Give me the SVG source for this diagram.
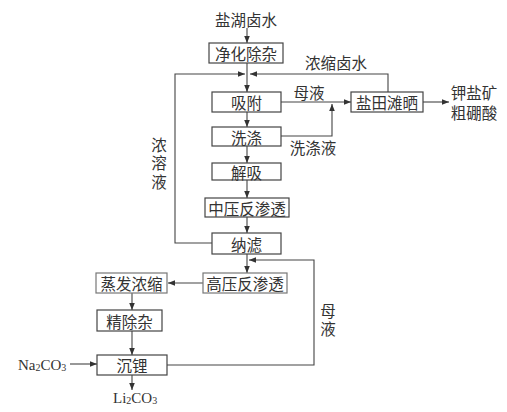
<svg xmlns="http://www.w3.org/2000/svg" width="507" height="412" viewBox="0 0 507 412">
<defs>
<marker id="ah" viewBox="0 0 10 10" refX="10" refY="5" markerWidth="7" markerHeight="7" markerUnits="userSpaceOnUse" orient="auto"><path d="M0,1 L10,5 L0,9 Z" fill="#333"/></marker>
<style>
.box{fill:#fff;stroke:#444;stroke-width:1.2}
.t{font-family:"Noto Sans CJK SC","Noto Sans",sans-serif;font-size:15.5px;fill:#333;text-anchor:middle;dominant-baseline:central}
.v{font-family:"Noto Sans CJK SC","Noto Sans",sans-serif;font-size:15.5px;fill:#333;writing-mode:vertical-rl;text-anchor:start}
.s{font-family:"Liberation Serif",serif;font-size:15px;fill:#333}
.ln{fill:none;stroke:#444;stroke-width:1.1}
.ar{fill:none;stroke:#444;stroke-width:1.1;marker-end:url(#ah)}
</style>
</defs>
<rect width="507" height="412" fill="#fff"/>
<g id="connectors">
<path class="ar" d="M247,28 V43"/>
<path class="ar" d="M247,63 V92"/>
<path class="ar" d="M247,112 V127"/>
<path class="ar" d="M247,146 V163"/>
<path class="ar" d="M247,180 V198"/>
<path class="ar" d="M247,217 V233"/>
<path class="ar" d="M247,254 V273"/>
<path class="ar" d="M212,243 H175 V74 H245"/>
<path class="ar" d="M388,92 V74 H250"/>
<path class="ar" d="M281,102 H351"/>
<path class="ar" d="M281,136 H332 V104"/>
<path class="ar" d="M423,102 H449"/>
<path class="ar" d="M203,283 H168"/>
<path class="ar" d="M132,293 V310"/>
<path class="ar" d="M132,331 V355"/>
<path class="ar" d="M167,365 H314 V260 H249"/>
<path class="ar" d="M70,364 H97"/>
<path class="ar" d="M132,375 V390"/>
</g>
<g id="n_yhls"><text class="t" x="246" y="19">盐湖卤水</text></g>
<g id="n_jhcz"><rect class="box" x="209" y="43" width="74" height="20"/><text class="t" x="246" y="53">净化除杂</text></g>
<g id="n_xf"><rect class="box" x="212" y="92" width="69" height="20"/><text class="t" x="246.5" y="102">吸附</text></g>
<g id="n_xd"><rect class="box" x="212" y="127" width="69" height="19"/><text class="t" x="246.5" y="136.5">洗涤</text></g>
<g id="n_jx"><rect class="box" x="212" y="163" width="69" height="17"/><text class="t" x="246.5" y="171.5">解吸</text></g>
<g id="n_zy"><rect class="box" x="205" y="198" width="84" height="19"/><text class="t" x="247" y="207.5">中压反渗透</text></g>
<g id="n_nl"><rect class="box" x="212" y="233" width="69" height="21"/><text class="t" x="246.5" y="243.5">纳滤</text></g>
<g id="n_gy"><rect class="box" x="203" y="273" width="84" height="20" style="stroke:#777"/><text class="t" x="245" y="283">高压反渗透</text></g>
<g id="n_zf"><rect class="box" x="96" y="273" width="71" height="20" style="stroke:#777"/><text class="t" x="131.5" y="283">蒸发浓缩</text></g>
<g id="n_jcz"><rect class="box" x="97" y="310" width="65" height="21"/><text class="t" x="129.5" y="320.5">精除杂</text></g>
<g id="n_cl"><rect class="box" x="97" y="355" width="70" height="20"/><text class="t" x="132" y="365">沉锂</text></g>
<g id="n_ytts"><rect class="box" x="351" y="92" width="72" height="20"/><text class="t" x="387" y="102">盐田滩晒</text></g>
<g id="n_product"><text class="t" x="474" y="92">钾盐矿</text><text class="t" x="474" y="112">粗硼酸</text></g>
<g id="labels">
<text class="t" x="336" y="62">浓缩卤水</text>
<text class="t" x="309" y="92">母液</text>
<text class="t" x="313" y="147">洗涤液</text>
<text class="v" x="159" y="137" letter-spacing="3">浓溶液</text>
<text class="v" x="328" y="303" letter-spacing="2.5">母液</text>
</g>
<g id="n_na"><text class="s" x="18" y="370">Na<tspan font-size="10" dy="1">2</tspan><tspan dy="-1">CO</tspan><tspan font-size="10" dy="1">3</tspan></text></g>
<g id="n_li"><text class="s" x="113" y="403">Li<tspan font-size="10" dy="1">2</tspan><tspan dy="-1">CO</tspan><tspan font-size="10" dy="1">3</tspan></text></g>
</svg>
